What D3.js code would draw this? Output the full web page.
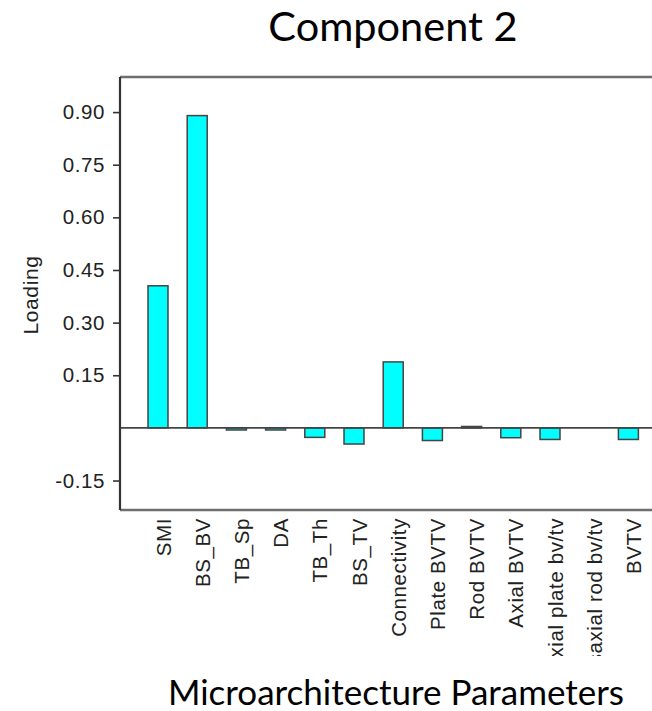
<!DOCTYPE html>
<html>
<head>
<meta charset="utf-8">
<script src="https://cdn.jsdelivr.net/npm/d3@7"></script>
<style>
  html, body { margin: 0; padding: 0; background: #fff; }
  svg { display: block; }
</style>
</head>
<body>
<svg id="chart" width="652" height="711"></svg>
<script>
// Loadings of each microarchitecture parameter on the second component
const parameters = ["SMI", "BS_BV", "TB_Sp", "DA", "TB_Th", "BS_TV", "Connectivity",
  "Plate BVTV", "Rod BVTV", "Axial BVTV", "Transaxial plate bv/tv", "Transaxial rod bv/tv", "BVTV"];
const loadings = [0.405, 0.89, -0.006, -0.006, -0.027, -0.046, 0.188,
  -0.036, 0.004, -0.028, -0.033, 0, -0.033];
const yTicks = [-0.15, 0.15, 0.30, 0.45, 0.60, 0.75, 0.90];
const yDomain = [-0.234, 1.0];

const svg = d3.select("#chart");
const plot = { left: 120, top: 77, right: 700, bottom: 510 };

const x = d3.scaleBand()
  .domain(parameters)
  .range([138.4, 648])
  .paddingInner(0.49)
  .paddingOuter(0.245);

const y = d3.scaleLinear().domain(yDomain).range([plot.bottom, plot.top]);

const labelFont = "'Liberation Sans', Arial, sans-serif";
const titleFont = "Lato, 'Open Sans', sans-serif";

// Title
svg.append("text")
  .attr("x", 393).attr("y", 41)
  .attr("text-anchor", "middle")
  .attr("font-family", titleFont)
  .attr("font-size", 41.5)
  .attr("fill", "#000")
  .text("Component 2");

// Frame: top and bottom edges (open to the right)
svg.append("line")
  .attr("x1", plot.left).attr("x2", plot.right)
  .attr("y1", plot.top).attr("y2", plot.top)
  .attr("stroke", "#6e6e6e").attr("stroke-width", 2.5);
svg.append("line")
  .attr("x1", plot.left).attr("x2", plot.right)
  .attr("y1", plot.bottom).attr("y2", plot.bottom)
  .attr("stroke", "#6e6e6e").attr("stroke-width", 2.5);

// Bars
svg.append("g")
  .selectAll("rect")
  .data(parameters.map((p, i) => ({ p, v: loadings[i] })).filter(d => d.v !== 0))
  .join("rect")
  .attr("x", d => x(d.p))
  .attr("width", x.bandwidth())
  .attr("y", d => y(Math.max(0, d.v)))
  .attr("height", d => Math.abs(y(d.v) - y(0)))
  .attr("fill", "#0ff")
  .attr("stroke", "#444")
  .attr("stroke-width", 1.5);

// Zero reference line
svg.append("line")
  .attr("x1", plot.left).attr("x2", plot.right)
  .attr("y1", y(0)).attr("y2", y(0))
  .attr("stroke", "#444").attr("stroke-width", 1.6);

// Y axis
const yAxis = svg.append("g")
  .attr("transform", `translate(${plot.left},0)`)
  .call(d3.axisLeft(y).tickValues(yTicks).tickFormat(d => d.toFixed(2))
    .tickSize(7).tickPadding(8).tickSizeOuter(0));
yAxis.select(".domain").attr("stroke", "#333").attr("stroke-width", 2.2)
  .attr("d", `M0,${plot.top}V${plot.bottom}`);
yAxis.selectAll(".tick line").attr("stroke", "#333").attr("stroke-width", 1.6);
yAxis.selectAll(".tick text")
  .attr("font-family", labelFont)
  .attr("font-size", 20.5)
  .attr("letter-spacing", "0.6px")
  .attr("fill", "#222");

// Y axis title
svg.append("text")
  .attr("transform", "translate(31,295) rotate(-90)")
  .attr("text-anchor", "middle")
  .attr("dy", "0.35em")
  .attr("font-family", labelFont)
  .attr("font-size", 21)
  .attr("letter-spacing", "0.6px")
  .attr("fill", "#222")
  .text("Loading");

// Category labels, clipped at the bottom of the label area
svg.append("clipPath").attr("id", "label-clip")
  .append("rect").attr("x", 0).attr("y", 512).attr("width", 652).attr("height", 144);

svg.append("g")
  .attr("clip-path", "url(#label-clip)")
  .selectAll("text")
  .data(parameters)
  .join("text")
  .attr("transform", d => `translate(${x(d) + x.bandwidth() / 2 + 5.5},518) rotate(-90)`)
  .attr("text-anchor", "end")
  .attr("dy", "0.35em")
  .attr("font-family", labelFont)
  .attr("font-size", 20.5)
  .attr("letter-spacing", "0.6px")
  .attr("fill", "#222")
  .text(d => d);

// X axis title
svg.append("text")
  .attr("x", 396).attr("y", 705)
  .attr("text-anchor", "middle")
  .attr("font-family", titleFont)
  .attr("font-size", 35)
  .attr("fill", "#000")
  .text("Microarchitecture Parameters");
</script>
</body>
</html>
